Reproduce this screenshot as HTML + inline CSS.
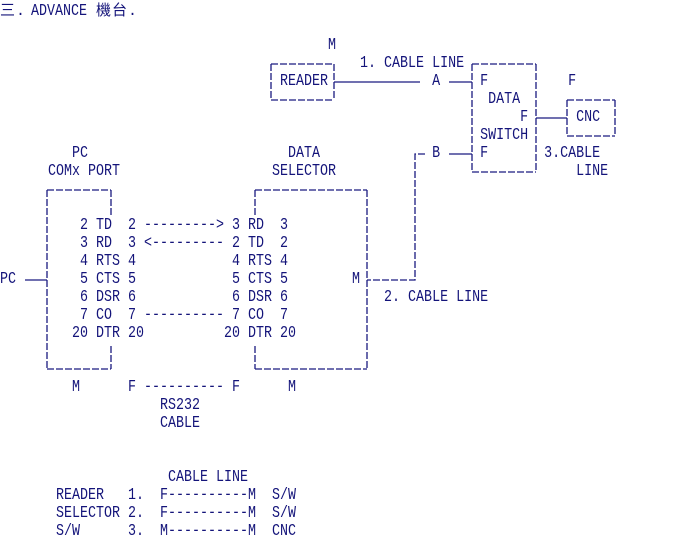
<!DOCTYPE html>
<html><head><meta charset="utf-8"><style>
html,body{margin:0;padding:0;background:#fff;width:673px;height:546px;overflow:hidden}
pre{position:absolute;left:0;top:1px;margin:0;font-family:"Liberation Mono",monospace;font-size:17px;line-height:18px;color:#14147a;transform:scaleX(0.7843);transform-origin:0 0}
.t{position:absolute;top:3px;font-family:"Liberation Mono","Noto Sans CJK TC",monospace;font-size:15px;line-height:18px;color:#14147a}
svg{position:absolute;left:0;top:0}
</style></head><body>
<span class="t" style="left:0">三</span><span class="t" style="left:16px">.</span><span class="t" style="left:31px;font-size:17px;transform:scaleX(0.7843);transform-origin:0 0">ADVANCE</span><span class="t" style="left:96px">機</span><span class="t" style="left:112px">台</span><span class="t" style="left:128px">.</span>
<pre>


                                         M
                                             1. CABLE LINE
                                   READER             A     F          F
                                                             DATA
                                                                 F      CNC
                                                            SWITCH
         PC                         DATA              B     F       3.CABLE
      COMx PORT                   SELECTOR                              LINE


          2 TD  2 ---------> 3 RD  3
          3 RD  3 <--------- 2 TD  2
          4 RTS 4            4 RTS 4
PC        5 CTS 5            5 CTS 5        M
          6 DSR 6            6 DSR 6            2. CABLE LINE
          7 CO  7 ---------- 7 CO  7
         20 DTR 20          20 DTR 20


         M      F ---------- F      M
                    RS232
                    CABLE


                     CABLE LINE
       READER   1.  F----------M  S/W
       SELECTOR 2.  F----------M  S/W
       S/W      3.  M----------M  CNC
</pre>
<svg width="673" height="546" fill="none" stroke="#1a1a80" stroke-width="1.3" stroke-dasharray="7 2">
<path d="M271 64H334M271 100H334M271 64V100M334 64V100"/>
<path d="M334 82H420M449 82H472" stroke-dasharray="none"/>
<path d="M472 64H536M472 172H536M472 64V172M536 64V172"/>
<path d="M536 118H567M449 154H472" stroke-dasharray="none"/>
<path d="M567 100H615M567 136H615M567 100V136M615 100V136"/>
<path d="M425 154H415V280H367"/>
<path d="M47 190H111M47 369H111M47 190V369M111 190V215M111 346V369"/>
<path d="M25 280H47" stroke-dasharray="none"/>
<path d="M255 190H367M255 369H367M367 190V369M255 190V215M255 346V369"/>
</svg>
</body></html>
